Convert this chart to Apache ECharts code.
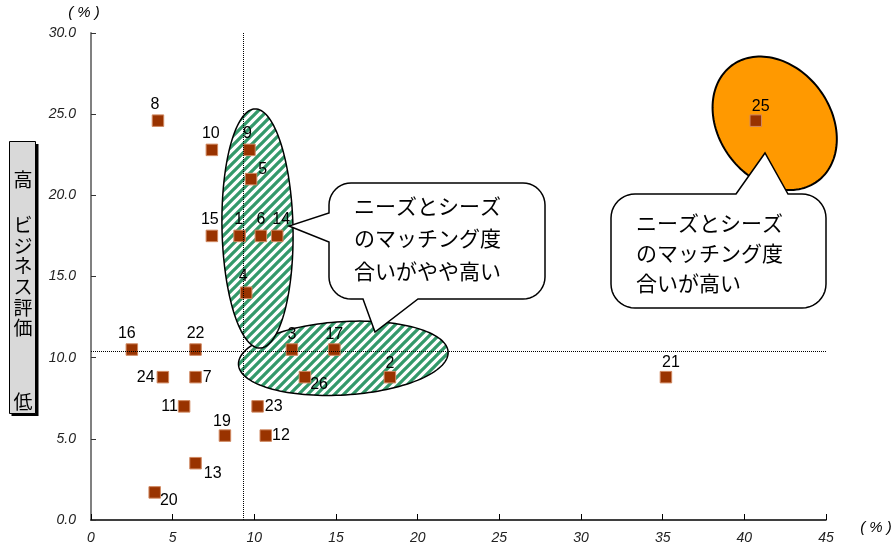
<!DOCTYPE html>
<html><head><meta charset="utf-8">
<script src="https://cdn.jsdelivr.net/npm/echarts@6/dist/echarts.min.js"></script>
<style>html,body{margin:0;padding:0;background:#fff}#c{width:894px;height:548px}</style>
</head><body><div id="c"></div>
<script>
// ---- data ----
const pointIds = ['1','2','3','4','5','6','7','8','9','10','11','12','13','14','15','16','17','19','20','21','22','23','24','25','26'];
const needsShare = [9.1,18.3,12.3,9.5,9.8,10.4,6.4,4.1,9.7,7.4,5.7,10.7,6.4,11.4,7.4,2.5,14.9,8.2,3.9,35.2,6.4,10.2,4.4,40.7,13.1];
const bizScore  = [17.5,8.8,10.5,14.0,21.0,17.5,8.8,24.6,22.8,22.8,7.0,5.2,3.5,17.5,17.5,10.5,10.5,5.2,1.7,8.8,10.5,7.0,8.8,24.6,8.8];
const refX = 9.35;
const refY = 10.4;
const calloutMidText = ['ニーズとシーズ','のマッチング度','合いがやや高い'];
const calloutRightText = ['ニーズとシーズ','のマッチング度','合いが高い'];
const yTitleTop = '高', yTitleMid = 'ビジネス評価', yTitleBottom = '低';
const unitText = '( % )';

// ---- label placement (style only) ----
const labelPlace = {
  '5':['right',[-1,-10]], '7':['right',[-1,0]], '23':['right',[-1,0]], '12':['right',[-2,0]],
  '13':['right',[0,10]], '20':['right',[-3,8]], '26':['right',[-3,7]],
  '24':['left',[0,0]], '11':['left',[2,0]],
  '8':['top',[-3,0]], '14':['top',[4,0]], '16':['top',[-5,0]], '3':['top',[0,1]], '17':['top',[0,1]],
  '2':['top',[0,3]], '21':['top',[5,2]], '25':['top',[5,2]], '19':['top',[-3,2]], '4':['top',[-3,0]],
  '10':['top',[-1,0]], '9':['top',[-2,0]], '15':['top',[-2,0]], '1':['top',[-1,0]]
};

const seriesData = pointIds.map((id,i)=>{
  const p = labelPlace[id] || ['top',[0,0]];
  return {name:id, value:[needsShare[i], bizScore[i]], label:{position:p[0], offset:p[1]}};
});

function ellipsePts(cx, cy, a, b, rotDeg, n){
  n = n||140;
  const r = rotDeg*Math.PI/180, c=Math.cos(r), s=Math.sin(r), pts=[];
  for(let i=0;i<n;i++){const t=2*Math.PI*i/n, x=a*Math.cos(t), y=b*Math.sin(t);
    pts.push([cx + x*c - y*s, cy + x*s + y*c]);}
  return pts;
}
function arc(pts, cx, cy, r, a0, a1){
  const n=10;
  for(let i=0;i<=n;i++){const a=(a0+(a1-a0)*i/n)*Math.PI/180; pts.push([cx+r*Math.cos(a), cy+r*Math.sin(a)]);}
}
function calloutPts(x,y,w,h,r,tails){
  const p=[];
  (tails.top||[]).forEach(q=>p.push(q));
  arc(p,x+w-r,y+r,r,-90,0);
  (tails.right||[]).forEach(q=>p.push(q));
  arc(p,x+w-r,y+h-r,r,0,90);
  (tails.bottom||[]).forEach(q=>p.push(q));
  arc(p,x+r,y+h-r,r,90,180);
  (tails.left||[]).forEach(q=>p.push(q));
  arc(p,x+r,y+r,r,180,270);
  return p;
}
function hatch(){
  const T=9;
  const c=document.createElement('canvas'); c.width=T; c.height=T;
  const g=c.getContext('2d'); g.fillStyle='#fff'; g.fillRect(0,0,T,T);
  g.strokeStyle='#33996a'; g.lineWidth=3.3; g.beginPath();
  g.moveTo(-2,T+2); g.lineTo(T+2,-2); g.moveTo(-2,2); g.lineTo(2,-2); g.moveTo(T-2,T+2); g.lineTo(T+2,T-2);
  g.stroke(); return c;
}
const hatchFill = {image: hatch(), repeat:'repeat'};

function txt(text,x,y,opt){
  return {type:'text', z:1.5, style:{text:text, x:x, y:y, fill:'#000',
    font:(opt&&opt.font)||'21px "Noto Sans CJK JP"', align:(opt&&opt.align)||'left', verticalAlign:'middle',
    textAlign:(opt&&opt.align)||'left', textVerticalAlign:'middle', lineHeight:(opt&&opt.lh)||undefined}};
}

const graphics = [
  {type:'polygon', z:1, shape:{points:ellipsePts(343.3,358.3,105,36.7,-3.5)}, style:{fill:hatchFill, stroke:'#000', lineWidth:1.5}},
  {type:'polygon', z:1.05, shape:{points:ellipsePts(257.5,228.5,35.5,119.6,-1.2)}, style:{fill:hatchFill, stroke:'#000', lineWidth:1.5}},
  {type:'polygon', z:1, shape:{points:ellipsePts(774.7,123.3,56,72,-36.5)}, style:{fill:'#ff9900', stroke:'#000', lineWidth:2}},
  {type:'polygon', z:1.2, shape:{points:calloutPts(329,183,216,116,22,{bottom:[[418,299],[375,332],[363,299]], left:[[329,242],[289,226],[329,213]]})}, style:{fill:'#fff', stroke:'#000', lineWidth:1.5}},
  {type:'polygon', z:1.2, shape:{points:calloutPts(611,194,215,114,24,{top:[[736,194],[765,153],[788,194]]})}, style:{fill:'#fff', stroke:'#000', lineWidth:1.5}},
  txt(calloutMidText[0],354,206), txt(calloutMidText[1],354,238), txt(calloutMidText[2],354,271),
  txt(calloutRightText[0],636,223), txt(calloutRightText[1],636,253), txt(calloutRightText[2],636,283),
  // y-axis title box
  {type:'rect', z:1, shape:{x:11.5,y:144,width:27,height:272}, style:{fill:'#000'}},
  {type:'rect', z:1.1, shape:{x:9.5,y:141.5,width:26,height:272}, style:{fill:'#d9d9d9', stroke:'#000', lineWidth:1}},
  txt(yTitleTop,23,180,{font:'19px "Noto Sans CJK JP"',align:'center'}),
  txt(yTitleMid.split('').join('\n'),23,276.5,{font:'19px "Noto Sans CJK JP"',align:'center',lh:20.6}),
  txt(yTitleBottom,23,402,{font:'19px "Noto Sans CJK JP"',align:'center'}),
  txt(unitText,84,13,{font:'italic 15px "Liberation Sans"',align:'center'}),
  txt(unitText,876,528,{font:'italic 15px "Liberation Sans"',align:'center'})
];

const chart = echarts.init(document.getElementById('c'));
chart.setOption({
  backgroundColor:'#fff',
  animation:false,
  grid:{left:91,right:68,top:33,bottom:28,containLabel:false},
  xAxis:{type:'value',min:0,max:45,interval:5,
    axisLine:{show:true,onZero:false,lineStyle:{color:'#000',width:1.5}},
    axisTick:{show:true,inside:true,length:6,lineStyle:{color:'#000',width:1}},
    axisLabel:{margin:11,fontSize:14,fontStyle:'italic',fontFamily:'Liberation Sans',color:'#222'},
    splitLine:{show:false}},
  yAxis:{type:'value',min:0,max:30,interval:5,
    axisLine:{show:true,onZero:false,lineStyle:{color:'#808080',width:2}},
    axisTick:{show:true,inside:true,length:5,lineStyle:{color:'#333',width:1}},
    axisLabel:{margin:15,fontSize:14,fontStyle:'italic',fontFamily:'Liberation Sans',color:'#222',formatter:v=>v.toFixed(1)},
    splitLine:{show:false}},
  graphic:{elements:graphics},
  series:[{type:'scatter',symbol:'rect',symbolSize:11.5,z:3,
    itemStyle:{color:'#993300',borderColor:'#d08860',borderWidth:1,opacity:1},
    label:{show:true,formatter:'{b}',distance:2,fontSize:16,fontFamily:'Liberation Sans',color:'#000'},
    emphasis:{disabled:true},
    data:seriesData,
    markLine:{silent:true,symbol:'none',animation:false,label:{show:false},
      lineStyle:{type:'dotted',color:'#000',width:1},
      data:[{xAxis:refX},{yAxis:refY}]}
  }]
});
</script></body></html>
